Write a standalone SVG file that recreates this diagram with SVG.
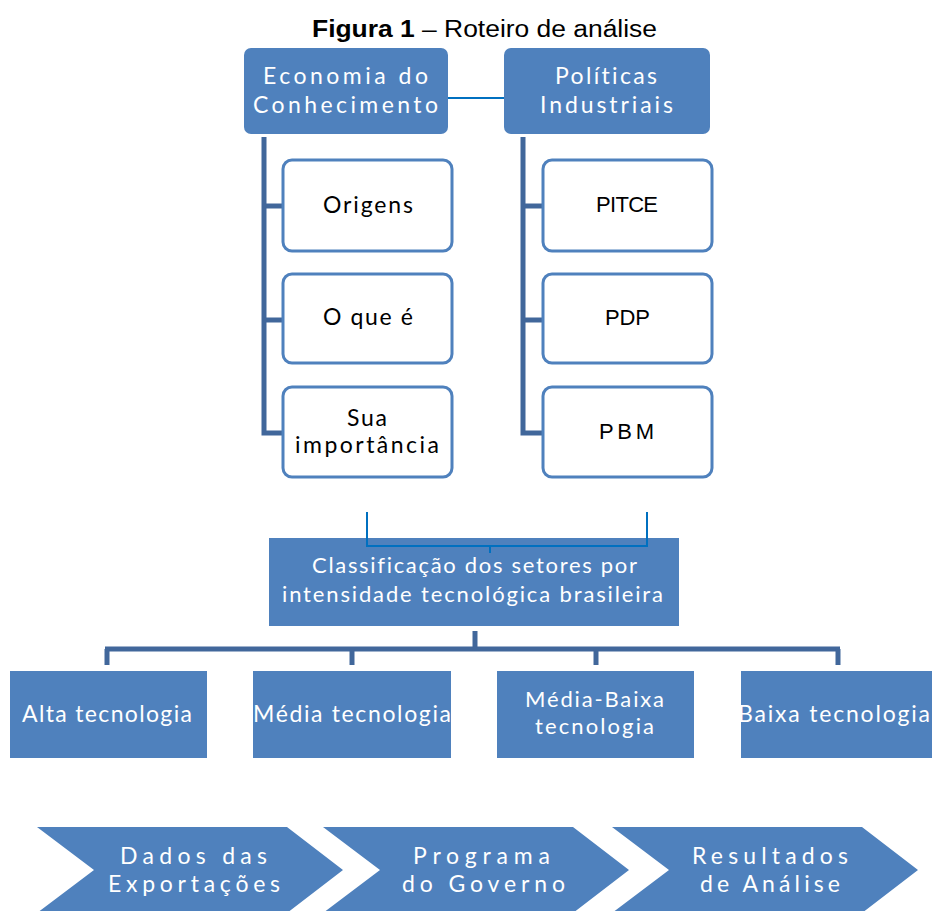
<svg xmlns="http://www.w3.org/2000/svg" width="932" height="911" viewBox="0 0 932 911">
<style>
.blue{fill:#4F81BD}
.child{fill:#FFFFFF;stroke:#4F81BD;stroke-width:3}
.bar{stroke:#41679B;stroke-width:5;fill:none}
.thin{stroke:#0070C0;stroke-width:2;fill:none}
.w{font-family:Lato,"Open Sans","Liberation Sans",sans-serif;fill:#FFFFFF;text-anchor:middle;font-variant-ligatures:none}
.k{font-family:Lato,"Open Sans","Liberation Sans",sans-serif;fill:#000000;text-anchor:middle;font-size:23px;font-variant-ligatures:none}
.a{font-family:"Liberation Sans",Arial,sans-serif;fill:#000000;text-anchor:middle;font-size:22px}
</style>
<rect width="932" height="911" fill="#FFFFFF"/>
<text x="484.5" y="37" font-family="Liberation Sans, Arial, sans-serif" font-size="23" text-anchor="middle" textLength="345" lengthAdjust="spacingAndGlyphs"><tspan font-weight="bold">Figura 1</tspan> – Roteiro de análise</text>

<g id="connectors">
<line class="thin" x1="448" y1="98" x2="504" y2="98"/>
<polyline class="bar" points="264,137 264,433 283,433"/>
<line class="bar" x1="264" y1="206" x2="283" y2="206"/>
<line class="bar" x1="264" y1="320" x2="283" y2="320"/>
<polyline class="bar" points="523,137 523,433 543,433"/>
<line class="bar" x1="523" y1="206" x2="543" y2="206"/>
<line class="bar" x1="523" y1="320" x2="543" y2="320"/>
<polyline class="thin" points="367,512 367,546 647,546 647,512"/>
<line class="thin" x1="490" y1="546" x2="490" y2="553"/>
<line class="bar" x1="475" y1="631" x2="475" y2="649"/>
<line class="bar" x1="105" y1="649" x2="840" y2="649"/>
<line class="bar" x1="107" y1="649" x2="107" y2="665"/>
<line class="bar" x1="352" y1="649" x2="352" y2="665"/>
<line class="bar" x1="596" y1="649" x2="596" y2="665"/>
<line class="bar" x1="838" y1="649" x2="838" y2="665"/>
</g>

<g id="economia">
<rect class="blue" x="244" y="48" width="204" height="86" rx="7"/>
<text class="w" font-size="23" x="345.5" y="84" textLength="165" lengthAdjust="spacing">Economia do</text>
<text class="w" font-size="23" x="345.5" y="113" textLength="185" lengthAdjust="spacing">Conhecimento</text>
</g>
<g id="politicas">
<rect class="blue" x="504" y="48" width="206" height="86" rx="7"/>
<text class="w" font-size="23" x="606" y="84" textLength="102" lengthAdjust="spacing">Políticas</text>
<text class="w" font-size="23" x="606.5" y="113" textLength="133" lengthAdjust="spacing">Industriais</text>
</g>

<g id="origens">
<rect class="child" x="283" y="160" width="169" height="91" rx="9"/>
<text class="k" x="368" y="213" textLength="90" lengthAdjust="spacing">Origens</text>
</g>
<g id="oque">
<rect class="child" x="283" y="274" width="169" height="89" rx="9"/>
<text class="k" x="368" y="325" textLength="90" lengthAdjust="spacing">O que é</text>
</g>
<g id="importancia">
<rect class="child" x="283" y="387" width="169" height="90" rx="9"/>
<text class="k" font-size="22" x="367" y="426" textLength="40" lengthAdjust="spacing">Sua</text>
<text class="k" font-size="22" x="367" y="453" textLength="144" lengthAdjust="spacing">importância</text>
</g>

<g id="pitce">
<rect class="child" x="543" y="160" width="169" height="91" rx="9"/>
<text class="a" x="627" y="212" textLength="62" lengthAdjust="spacing">PITCE</text>
</g>
<g id="pdp">
<rect class="child" x="543" y="274" width="169" height="89" rx="9"/>
<text class="a" x="627.5" y="325" textLength="45" lengthAdjust="spacing">PDP</text>
</g>
<g id="pbm">
<rect class="child" x="543" y="387" width="169" height="90" rx="9"/>
<text class="a" font-size="23" x="626.5" y="439" textLength="55" lengthAdjust="spacing">PBM</text>
</g>

<g id="classificacao">
<rect class="blue" x="269" y="538" width="410" height="88"/>
<polyline class="thin" points="367,538 367,546 647,546 647,538"/>
<line class="thin" x1="490" y1="546" x2="490" y2="553"/>
<text class="w" font-size="22" x="474.5" y="573" textLength="325" lengthAdjust="spacing">Classificação dos setores por</text>
<text class="w" font-size="22" x="472.5" y="602" textLength="381" lengthAdjust="spacing">intensidade tecnológica brasileira</text>
</g>

<g id="alta">
<rect class="blue" x="10" y="671" width="197" height="87"/>
<text class="w" font-size="23" x="107" y="722" textLength="170" lengthAdjust="spacing">Alta tecnologia</text>
</g>
<g id="media">
<rect class="blue" x="253" y="671" width="198" height="87"/>
<text class="w" font-size="23" x="352" y="722" textLength="198" lengthAdjust="spacing">Média tecnologia</text>
</g>
<g id="mediabaixa">
<rect class="blue" x="497" y="671" width="197" height="87"/>
<text class="w" font-size="22" x="594.5" y="707" textLength="139" lengthAdjust="spacing">Média-Baixa</text>
<text class="w" font-size="22" x="594.5" y="734" textLength="119" lengthAdjust="spacing">tecnologia</text>
</g>
<g id="baixa">
<rect class="blue" x="741" y="671" width="197" height="87"/>
<text class="w" font-size="23" x="834" y="722" textLength="192" lengthAdjust="spacing">Baixa tecnologia</text>
</g>

<g id="dados">
<polygon class="blue" points="37,827 287,827 343,870 287,913 37,913 94,870"/>
<text class="w" font-size="23" x="193.5" y="864" textLength="147" lengthAdjust="spacing">Dados das</text>
<text class="w" font-size="23" x="194" y="892" textLength="172" lengthAdjust="spacing">Exportações</text>
</g>
<g id="programa">
<polygon class="blue" points="323,827 573,827 629,870 573,913 323,913 380,870"/>
<text class="w" font-size="23" x="481.5" y="864" textLength="137" lengthAdjust="spacing">Programa</text>
<text class="w" font-size="23" x="483.5" y="892" textLength="163" lengthAdjust="spacing">do Governo</text>
</g>
<g id="resultados">
<polygon class="blue" points="612,827 862,827 918,870 862,913 612,913 669,870"/>
<text class="w" font-size="23" x="770" y="864" textLength="156" lengthAdjust="spacing">Resultados</text>
<text class="w" font-size="23" x="770" y="892" textLength="140" lengthAdjust="spacing">de Análise</text>
</g>
</svg>
